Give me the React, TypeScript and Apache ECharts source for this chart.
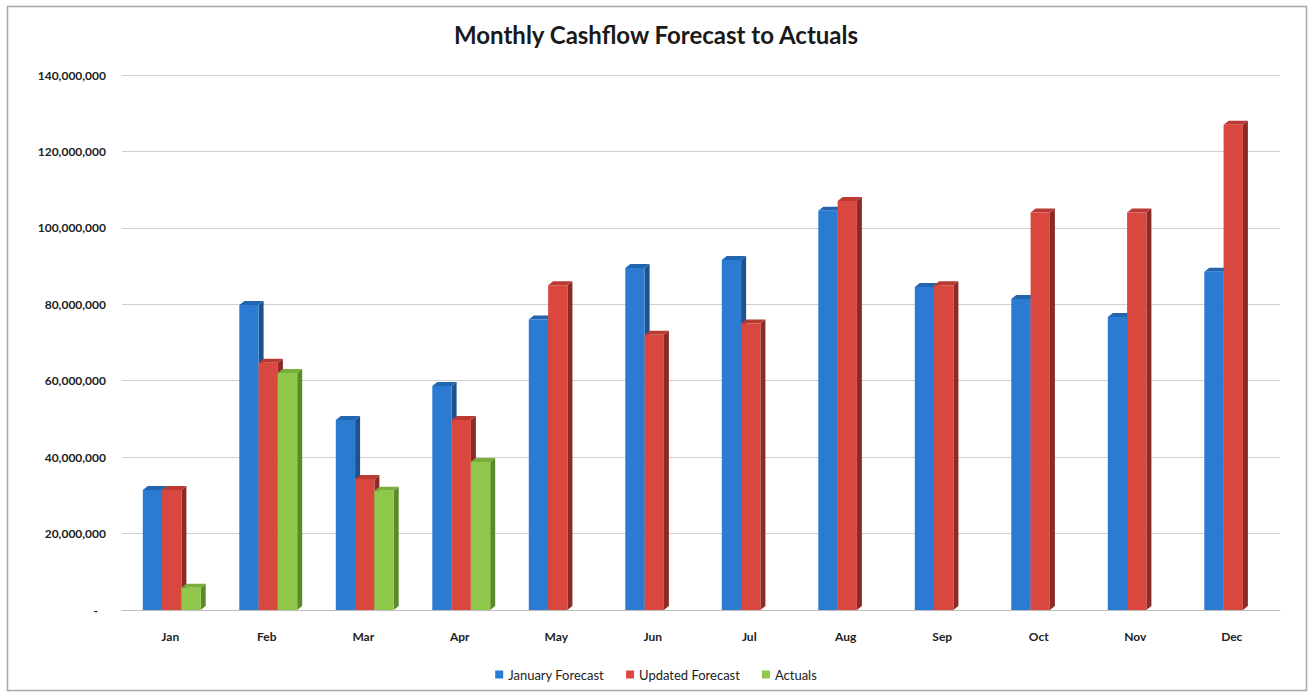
import React, { useEffect, useRef } from "react";
import * as echarts from "echarts";

// Months shown on the category axis
const months = ["Jan", "Feb", "Mar", "Apr", "May", "Jun", "Jul", "Aug", "Sep", "Oct", "Nov", "Dec"];

// Cashflow values per month
const januaryForecast = [31400000, 79800000, 49700000, 58600000, 76000000, 89500000, 91600000, 104500000, 84500000, 81400000, 76700000, 88500000];
const updatedForecast = [31400000, 64700000, 34300000, 49700000, 85000000, 72000000, 75000000, 107000000, 85000000, 104000000, 104000000, 127000000];
const actuals = [5800000, 62000000, 31200000, 38700000];

// Y axis range
const yMax = 140000000;
const yStep = 20000000;

const FONT = "Lato, 'Open Sans', sans-serif";
const DX = 5;
const DY = 4;

type Palette = { front: string; side: string; top: string };

const palettes: Palette[] = [
  { front: "#2b7bd3", side: "#1b528f", top: "#2366b0" },
  { front: "#d9473f", side: "#8c2a25", top: "#b83a33" },
  { front: "#8fc74a", side: "#5a8a2a", top: "#7aae3c" },
];

// Draws one bar as a front face, a shaded side face and a top face
function makeRenderer(slot: number, pal: Palette) {
  return (_params: any, api: any) => {
    const cat = api.value(0);
    const v = api.value(1);
    if (v == null || isNaN(v)) return null;
    const top = api.coord([cat, v]);
    const base = api.coord([cat, 0]);
    const band = api.size([1, 0])[0];
    const w = band * 0.2;
    const x0 = top[0] + (slot - 1.5) * w + 1.5;
    const x1 = x0 + w;
    const yT = top[1];
    const yB = base[1];
    return {
      type: "group",
      children: [
        {
          type: "polygon",
          shape: { points: [[x1, yT], [x1 + DX, yT - DY], [x1 + DX, yB - DY], [x1, yB]] },
          style: { fill: pal.side },
        },
        {
          type: "polygon",
          shape: { points: [[x0, yT], [x0 + DX, yT - DY], [x1 + DX, yT - DY], [x1, yT]] },
          style: { fill: pal.top },
        },
        {
          type: "rect",
          shape: { x: x0, y: yT, width: w, height: yB - yT },
          style: { fill: pal.front },
        },
      ],
    };
  };
}

const toData = (arr: number[]) => arr.map((v, i) => [i, v]);

export default function App() {
  const ref = useRef<HTMLDivElement>(null);

  useEffect(() => {
    if (!ref.current) return;
    const chart = echarts.init(ref.current, undefined, { renderer: "svg" });
    const names = ["January Forecast", "Updated Forecast", "Actuals"];
    const sets = [januaryForecast, updatedForecast, actuals];

    chart.setOption({
      animation: false,
      backgroundColor: "#ffffff",
      title: {
        text: "Monthly Cashflow Forecast to Actuals",
        left: "center",
        top: 17,
        textStyle: { fontFamily: FONT, fontWeight: "bold", fontSize: 24, color: "#1a1a1a" },
      },
      grid: { left: 122, right: 32, top: 75, bottom: 84 },
      legend: {
        bottom: 8,
        left: "center",
        icon: "rect",
        itemWidth: 8,
        itemHeight: 8,
        itemGap: 22,
        textStyle: { fontFamily: FONT, fontSize: 13, color: "#222" },
        data: names,
      },
      xAxis: {
        type: "category",
        data: months,
        axisLine: { show: true, lineStyle: { color: "#bdbdbd", width: 1 } },
        axisTick: { show: false },
        axisLabel: { margin: 20, fontFamily: FONT, fontWeight: "bold", fontSize: 12, color: "#222" },
      },
      yAxis: {
        type: "value",
        min: 0,
        max: yMax,
        interval: yStep,
        axisLine: { show: false },
        axisTick: { show: false },
        splitLine: { lineStyle: { color: "#cfcfcf", width: 1.2 } },
        axisLabel: {
          margin: 16,
          fontFamily: FONT,
          fontWeight: "bold",
          fontSize: 12,
          color: "#222",
          formatter: (v: number) => (v === 0 ? "{z|-}" : v.toLocaleString("en-US")),
          rich: { z: { padding: [0, 8, 0, 0], fontFamily: FONT, fontWeight: "bold", fontSize: 12, color: "#222" } },
        },
      },
      graphic: [
        {
          type: "rect",
          shape: { x: 7.5, y: 6.5, width: 1299, height: 684 },
          style: { fill: "none", stroke: "#a6a6a6", lineWidth: 1.5 },
          silent: true,
          z: -1,
        },
      ],
      series: sets.map((arr, i) => ({
        name: names[i],
        type: "custom",
        renderItem: makeRenderer(i, palettes[i]),
        itemStyle: { color: palettes[i].front },
        encode: { x: 0, y: 1 },
        data: toData(arr),
        z: 2 + i,
      })),
    });

    return () => chart.dispose();
  }, []);

  return <div ref={ref} style={{ position: "absolute", left: 0, top: 0, width: 1312, height: 694 }} />;
}
